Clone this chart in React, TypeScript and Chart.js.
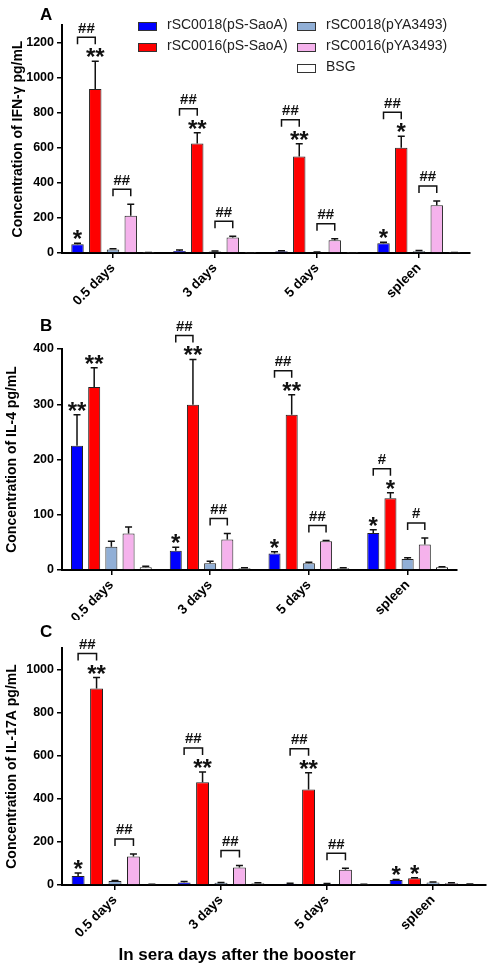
import React, { useEffect, useRef } from 'react';
import { Chart, registerables } from 'chart.js';
Chart.register(...registerables);

const FONT = '"Liberation Sans", Arial, Helvetica, sans-serif';

const categories = ['0.5 days', '3 days', '5 days', 'spleen'];
const seriesNames = ['rSC0018(pS-SaoA)', 'rSC0016(pS-SaoA)', 'rSC0018(pYA3493)', 'rSC0016(pYA3493)', 'BSG'];
const seriesColors = ['#0000ff', '#ff0000', '#91afd6', '#f5b2ec', '#ffffff'];
const xAxisTitle = 'In sera days after the booster';

// Panel A: IFN-γ
const ifnBlue = [50, 12, 10, 56];
const ifnRed = [935, 625, 550, 600];
const ifnLightBlue = [20, 8, 4, 10];
const ifnPink = [213, 88, 72, 272];
const ifnBsg = [2, 1, 1, 2];
const ifnBlueSd = [6, 5, 3, 5];
const ifnRedSd = [158, 61, 73, 65];
const ifnLightBlueSd = [4, 3, 2, 4];
const ifnPinkSd = [65, 8, 9, 25];
const ifnBsgSd = [1, 1, 1, 1];
const ifnBlueStars = ['*', '', '', '*'];
const ifnRedStars = ['**', '**', '**', '*'];
const ifnBlueRedMarks = ['##', '##', '##', '##'];
const ifnPinkMarks = ['##', '##', '##', '##'];

// Panel B: IL-4
const il4Blue = [225, 35, 30, 67];
const il4Red = [331, 299, 281, 130];
const il4LightBlue = [42, 12, 12, 20];
const il4Pink = [66, 55, 52, 46];
const il4Bsg = [5, 3, 3, 5];
const il4BlueSd = [56, 6, 3, 6];
const il4RedSd = [35, 82, 36, 10];
const il4LightBlueSd = [10, 4, 2, 2];
const il4PinkSd = [12, 11, 1.5, 12];
const il4BsgSd = [2, 1, 1, 1];
const il4BlueStars = ['**', '*', '*', '*'];
const il4RedStars = ['**', '**', '**', '*'];
const il4BlueRedMarks = ['', '##', '##', '#'];
const il4PinkMarks = ['', '##', '##', '#'];

// Panel C: IL-17A
const il17Blue = [42, 12, 6, 23];
const il17Red = [912, 477, 443, 31];
const il17LightBlue = [18, 10, 5, 12];
const il17Pink = [132, 81, 71, 8];
const il17Bsg = [3, 8, 2, 4];
const il17BlueSd = [14, 4, 2, 3];
const il17RedSd = [51, 48, 78, 3];
const il17LightBlueSd = [3, 2, 2, 2];
const il17PinkSd = [12, 9, 7, 2];
const il17BsgSd = [1, 2, 1, 1];
const il17BlueStars = ['*', '', '', '*'];
const il17RedStars = ['**', '**', '**', '*'];
const il17BlueRedMarks = ['##', '##', '##', ''];
const il17PinkMarks = ['##', '##', '##', ''];

type PanelCfg = {
  letter: string;
  top: number;
  height: number;
  areaTop: number;
  areaBottom: number;
  right: number;
  yMax: number;
  yStep: number;
  yTitle: string;
  yTitlePad: number;
  letterBaseline: number;
  values: number[][];
  errors: number[][];
  stars: string[][];
  marksBlueRed: string[];
  marksPink: string[];
  legend: boolean;
  xTitle: boolean;
};

const panels: PanelCfg[] = [
  {
    letter: 'A', top: 0, height: 305, areaTop: 25, areaBottom: 253, right: 470,
    yMax: 1300, yStep: 200, yTitle: 'Concentration of IFN-γ pg/mL', yTitlePad: 10, letterBaseline: 20,
    values: [ifnBlue, ifnRed, ifnLightBlue, ifnPink, ifnBsg],
    errors: [ifnBlueSd, ifnRedSd, ifnLightBlueSd, ifnPinkSd, ifnBsgSd],
    stars: [ifnBlueStars, ifnRedStars],
    marksBlueRed: ifnBlueRedMarks, marksPink: ifnPinkMarks, legend: true, xTitle: false,
  },
  {
    letter: 'B', top: 305, height: 315, areaTop: 44, areaBottom: 265, right: 457,
    yMax: 400, yStep: 100, yTitle: 'Concentration of IL-4 pg/mL', yTitlePad: 4, letterBaseline: 26,
    values: [il4Blue, il4Red, il4LightBlue, il4Pink, il4Bsg],
    errors: [il4BlueSd, il4RedSd, il4LightBlueSd, il4PinkSd, il4BsgSd],
    stars: [il4BlueStars, il4RedStars],
    marksBlueRed: il4BlueRedMarks, marksPink: il4PinkMarks, legend: false, xTitle: false,
  },
  {
    letter: 'C', top: 620, height: 349, areaTop: 28, areaBottom: 265, right: 486,
    yMax: 1100, yStep: 200, yTitle: 'Concentration of IL-17A pg/mL', yTitlePad: 4, letterBaseline: 17,
    values: [il17Blue, il17Red, il17LightBlue, il17Pink, il17Bsg],
    errors: [il17BlueSd, il17RedSd, il17LightBlueSd, il17PinkSd, il17BsgSd],
    stars: [il17BlueStars, il17RedStars],
    marksBlueRed: il17BlueRedMarks, marksPink: il17PinkMarks, legend: false, xTitle: true,
  },
];

const W = 489;

function makeChart(canvas: HTMLCanvasElement, p: PanelCfg) {
  const annot = {
    id: 'annot' + p.letter,
    afterDatasetsDraw(chart: any) {
      const ctx = chart.ctx;
      const ys = chart.scales.y;
      const metas = p.values.map((_, i) => chart.getDatasetMeta(i));
      const errTop = (i: number, j: number) => ys.getPixelForValue(p.values[i][j] + p.errors[i][j]);
      ctx.save();
      ctx.strokeStyle = '#111';
      ctx.fillStyle = '#111';
      ctx.lineWidth = 1.5;
      // error bars
      p.values.forEach((arr, i) => {
        arr.forEach((v, j) => {
          const bar = metas[i].data[j];
          const x = bar.x;
          const e = errTop(i, j);
          ctx.beginPath();
          ctx.moveTo(x, bar.y);
          ctx.lineTo(x, e);
          ctx.moveTo(x - 3.5, e);
          ctx.lineTo(x + 3.5, e);
          ctx.stroke();
        });
      });
      // stars
      const starSize = 24;
      ctx.font = `bold ${starSize}px ${FONT}`;
      ctx.textAlign = 'center';
      ctx.textBaseline = 'alphabetic';
      p.stars.forEach((arr, i) => {
        arr.forEach((s, j) => {
          if (!s) return;
          const x = metas[i].data[j].x;
          const c = errTop(i, j) - 8;
          ctx.fillText(s, x, c + 0.5 * starSize);
        });
      });
      // brackets
      const hashSize = 15;
      const drawBracket = (a: number, b: number, marks: string[], off: number) => {
        marks.forEach((m, j) => {
          if (!m) return;
          const x1 = metas[a].data[j].x;
          const x2 = metas[b].data[j].x;
          const t = Math.min(errTop(a, j), errTop(b, j)) - off;
          ctx.beginPath();
          ctx.moveTo(x1, t + 7);
          ctx.lineTo(x1, t);
          ctx.lineTo(x2, t);
          ctx.lineTo(x2, t + 7);
          ctx.stroke();
          ctx.font = `bold ${hashSize}px ${FONT}`;
          ctx.fillText(m, (x1 + x2) / 2, t - 10 + 0.36 * hashSize);
        });
      };
      drawBracket(0, 1, p.marksBlueRed, 24);
      drawBracket(2, 3, p.marksPink, 15);
      ctx.restore();
    },
    afterDraw(chart: any) {
      const ctx = chart.ctx;
      ctx.save();
      ctx.fillStyle = '#000';
      ctx.font = `bold 17px ${FONT}`;
      ctx.textAlign = 'left';
      ctx.textBaseline = 'alphabetic';
      ctx.fillText(p.letter, 40, p.letterBaseline);
      if (p.legend) {
        ctx.font = `14px ${FONT}`;
        ctx.textBaseline = 'middle';
        seriesNames.forEach((name, i) => {
          const col = i < 2 ? 0 : 1;
          const row = i < 2 ? i : i - 2;
          const bx = col === 0 ? 138 : 297;
          const cy = 26 + row * 21;
          ctx.fillStyle = seriesColors[i];
          ctx.fillRect(bx, cy - 4, 18, 8);
          ctx.strokeStyle = '#333';
          ctx.lineWidth = 1;
          ctx.strokeRect(bx + 0.5, cy - 3.5, 18, 8);
          ctx.fillStyle = '#222';
          ctx.fillText(name, bx + 29, cy - 1);
        });
      }
      if (p.xTitle) {
        ctx.font = `bold 17px ${FONT}`;
        ctx.textAlign = 'center';
        ctx.textBaseline = 'middle';
        ctx.fillStyle = '#000';
        ctx.fillText(xAxisTitle, 237, 335);
      }
      ctx.restore();
    },
  };

  return new Chart(canvas, {
    type: 'bar',
    data: {
      labels: categories,
      datasets: seriesNames.map((name, i) => ({
        label: name,
        data: p.values[i],
        backgroundColor: seriesColors[i],
        borderColor: '#222',
        borderWidth: 1,
        categoryPercentage: 0.87,
        barPercentage: 0.7,
      })),
    },
    options: {
      responsive: false,
      animation: false,
      devicePixelRatio: 1,
      layout: { padding: { top: p.areaTop, right: W - p.right, left: 0, bottom: 0 } },
      plugins: { legend: { display: false }, tooltip: { enabled: false }, title: { display: false } },
      scales: {
        x: {
          type: 'category',
          offset: true,
          grid: { display: true, drawOnChartArea: false, drawTicks: true, tickLength: 5, offset: false, color: '#000', lineWidth: 1.5 },
          border: { display: true, color: '#000', width: 2 },
          ticks: {
            minRotation: 45, maxRotation: 45, autoSkip: false, padding: 2, color: '#000',
            font: { family: FONT, size: 13.5, weight: 'bold' },
          },
          afterFit(scale: any) { scale.height = p.height - p.areaBottom; },
        },
        y: {
          min: 0,
          max: p.yMax,
          ticks: {
            stepSize: p.yStep, includeBounds: false, padding: 3, color: '#000',
            font: { family: FONT, size: 12.5, weight: 'bold' },
            callback: (v: any) => String(v),
          },
          grid: { display: true, drawOnChartArea: false, drawTicks: true, tickLength: 5, color: '#000', lineWidth: 1.5 },
          border: { display: true, color: '#000', width: 2 },
          title: {
            display: true, text: p.yTitle, color: '#000',
            font: { family: FONT, size: 14, weight: 'bold' },
            padding: { top: p.yTitlePad, bottom: 0 },
          },
          afterFit(scale: any) { scale.width = 62; },
        },
      },
    } as any,
    plugins: [annot],
  });
}

export default function App() {
  const refs = [useRef<HTMLCanvasElement>(null), useRef<HTMLCanvasElement>(null), useRef<HTMLCanvasElement>(null)];
  useEffect(() => {
    const charts = panels.map((p, i) => makeChart(refs[i].current as HTMLCanvasElement, p));
    return () => charts.forEach((c) => c.destroy());
  }, []);
  return (
    <div style={{ position: 'absolute', left: 0, top: 0, width: W, height: 969, background: '#fff', overflow: 'hidden' }}>
      {panels.map((p, i) => (
        <canvas
          key={p.letter}
          ref={refs[i]}
          width={W}
          height={p.height}
          style={{ position: 'absolute', left: 0, top: p.top, width: W, height: p.height }}
        />
      ))}
    </div>
  );
}
